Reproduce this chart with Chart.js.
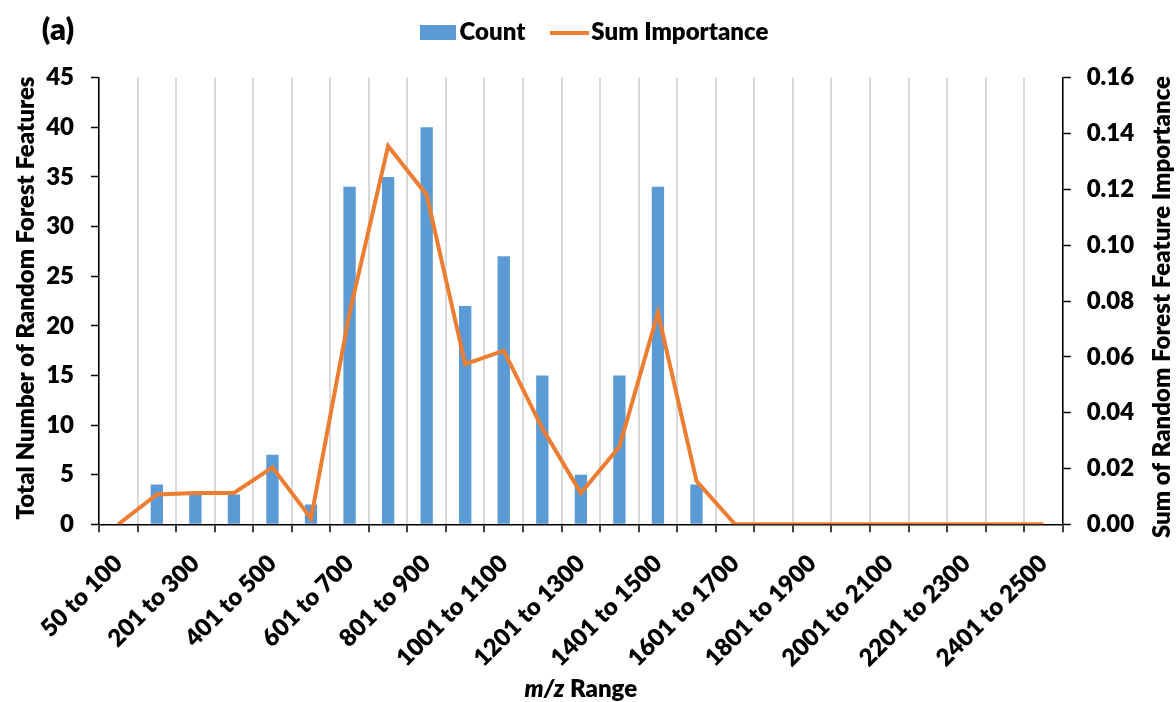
<!DOCTYPE html>
<html>
<head>
<meta charset="utf-8">
<script src="https://cdn.jsdelivr.net/npm/chart.js@4.4.1/dist/chart.umd.min.js"></script>
<style>
html, body { margin: 0; padding: 0; background: #ffffff; }
canvas { display: block; }
</style>
</head>
<body>
<canvas id="c" width="1176" height="702"></canvas>
<script>
// ---- data ----
const categories = [
  "50 to 100", "101 to 200", "201 to 300", "301 to 400", "401 to 500",
  "501 to 600", "601 to 700", "701 to 800", "801 to 900", "901 to 1000",
  "1001 to 1100", "1101 to 1200", "1201 to 1300", "1301 to 1400", "1401 to 1500",
  "1501 to 1600", "1601 to 1700", "1701 to 1800", "1801 to 1900", "1901 to 2000",
  "2001 to 2100", "2101 to 2200", "2201 to 2300", "2301 to 2400", "2401 to 2500"
];
const countValues = [0, 4, 3, 3, 7, 2, 34, 35, 40, 22, 27, 15, 5, 15, 34, 4, 0, 0, 0, 0, 0, 0, 0, 0, 0];
const importanceValues = [0, 0.0107, 0.0112, 0.0112, 0.0204, 0.0021, 0.0757, 0.1355, 0.118, 0.0574,
  0.0622, 0.0344, 0.0112, 0.0278, 0.0758, 0.0155, 0, 0, 0, 0, 0, 0, 0, 0, 0];
const seriesNames = ["Count", "Sum Importance"];
const countAxisTicks = { min: 0, max: 45, step: 5 };
const importanceAxisTicks = { min: 0, max: 0.16, step: 0.02 };
const leftTitle = "Total Number of Random Forest Features";
const rightTitle = "Sum of Random Forest Feature Importance";
const xTitleItalic = "m/z";
const xTitleRest = " Range";
const panelLabel = "(a)";

const BLUE = "#5B9BD5";
const ORANGE = "#ED7D31";
const FONT = "Lato";
const W = 800;
const FS = 24;

Chart.defaults.font.family = FONT;
Chart.defaults.font.weight = W;
Chart.defaults.color = "#000";

// legend swatches
function swatch(w, h, color) {
  const cv = document.createElement("canvas");
  cv.width = w; cv.height = h;
  const c = cv.getContext("2d");
  c.fillStyle = color;
  c.fillRect(0, 0, w, h);
  return cv;
}
const barSwatch = swatch(36, 15, BLUE);
const lineSwatch = swatch(39, 4, ORANGE);

const titlesPlugin = {
  id: "titles",
  afterDraw(chart) {
    const ctx = chart.ctx;
    const area = chart.chartArea;
    ctx.save();
    ctx.fillStyle = "#000";
    ctx.textAlign = "center";
    ctx.textBaseline = "middle";
    ctx.font = W + " " + FS + "px " + FONT;
    ctx.save();
    ctx.translate(26, 298);
    ctx.rotate(-Math.PI / 2);
    ctx.fillText(leftTitle, 0, 0);
    ctx.restore();
    ctx.save();
    ctx.translate(1162, 307);
    ctx.rotate(-Math.PI / 2);
    ctx.fillText(rightTitle, 0, 0);
    ctx.restore();
    ctx.font = "italic " + W + " " + FS + "px " + FONT;
    const w1 = ctx.measureText(xTitleItalic).width;
    ctx.font = W + " " + FS + "px " + FONT;
    const w2 = ctx.measureText(xTitleRest).width;
    const x0 = (area.left + area.right) / 2 - (w1 + w2) / 2;
    ctx.textAlign = "left";
    ctx.font = "italic " + W + " " + FS + "px " + FONT;
    ctx.fillText(xTitleItalic, x0, 689);
    ctx.font = W + " " + FS + "px " + FONT;
    ctx.fillText(xTitleRest, x0 + w1, 689);
    ctx.font = W + " 31px " + FONT;
    ctx.textAlign = "center";
    ctx.fillText(panelLabel, 58, 30);
    ctx.restore();
  }
};

const tickFont = { size: FS, weight: W, family: FONT };

new Chart(document.getElementById("c"), {
  data: {
    labels: categories,
    datasets: [
      {
        type: "bar",
        label: seriesNames[0],
        data: countValues,
        backgroundColor: BLUE,
        borderWidth: 0,
        barPercentage: 0.32,
        categoryPercentage: 1.0,
        yAxisID: "y",
        order: 2
      },
      {
        type: "line",
        label: seriesNames[1],
        data: importanceValues,
        borderColor: ORANGE,
        backgroundColor: ORANGE,
        borderWidth: 4,
        pointRadius: 0,
        pointHoverRadius: 0,
        tension: 0,
        fill: false,
        yAxisID: "y1",
        order: 1
      }
    ]
  },
  options: {
    responsive: false,
    animation: false,
    devicePixelRatio: 1,
    layout: { padding: { left: 20, right: 0, top: -13.5, bottom: 0 } },
    plugins: {
      tooltip: { enabled: false },
      subtitle: {
        display: true,
        text: "",
        position: "top",
        weight: 500,
        padding: 0,
        font: { size: 23.2, lineHeight: 1 }
      },
      legend: {
        display: true,
        position: "top",
        labels: {
          usePointStyle: true,
          pointStyleWidth: 20,
          boxHeight: 15,
          padding: 34,
          color: "#000",
          font: tickFont,
          sort: (a, b) => a.datasetIndex - b.datasetIndex,
          generateLabels(chart) {
            const items = Chart.defaults.plugins.legend.labels.generateLabels(chart);
            items.forEach(it => {
              if (it.datasetIndex === 0) {
                it.pointStyle = barSwatch;
                it.lineWidth = 0;
                it.fillStyle = BLUE;
                it.strokeStyle = BLUE;
              } else {
                it.pointStyle = lineSwatch;
                it.lineWidth = 0;
                it.strokeStyle = ORANGE;
                it.fillStyle = ORANGE;
              }
            });
            return items;
          }
        }
      }
    },
    scales: {
      x: {
        type: "category",
        offset: true,
        grid: {
          offset: true,
          display: true,
          drawOnChartArea: true,
          color: "#d9d9d9",
          lineWidth: 2,
          tickColor: "#000",
          tickLength: 8,
          tickWidth: 1.5
        },
        border: { display: true, color: "#000", width: 1.5 },
        ticks: {
          autoSkip: false,
          minRotation: 45,
          maxRotation: 45,
          padding: 17,
          color: "#000",
          font: tickFont,
          callback: function (value, index) {
            return index % 2 === 0 ? this.getLabelForValue(value) : "";
          }
        },
        afterFit(scale) { scale.height = 177.7; }
      },
      y: {
        position: "left",
        min: countAxisTicks.min,
        max: countAxisTicks.max,
        grid: {
          drawOnChartArea: false,
          drawTicks: true,
          tickLength: 8,
          tickColor: "#000",
          tickWidth: 1.5
        },
        border: { display: true, color: "#000", width: 1.5 },
        ticks: {
          stepSize: countAxisTicks.step,
          padding: 17,
          color: "#000",
          font: tickFont
        },
        afterFit(scale) { scale.width = 79; }
      },
      y1: {
        position: "right",
        min: importanceAxisTicks.min,
        max: importanceAxisTicks.max,
        grid: {
          drawOnChartArea: false,
          drawTicks: true,
          tickLength: 8,
          tickColor: "#000",
          tickWidth: 1.5
        },
        border: { display: true, color: "#000", width: 1.5 },
        ticks: {
          stepSize: importanceAxisTicks.step,
          padding: 16,
          color: "#000",
          font: tickFont,
          callback: (v) => Number(v).toFixed(2)
        },
        afterFit(scale) { scale.width = 113.3; }
      }
    }
  },
  plugins: [titlesPlugin]
});
</script>
</body>
</html>
